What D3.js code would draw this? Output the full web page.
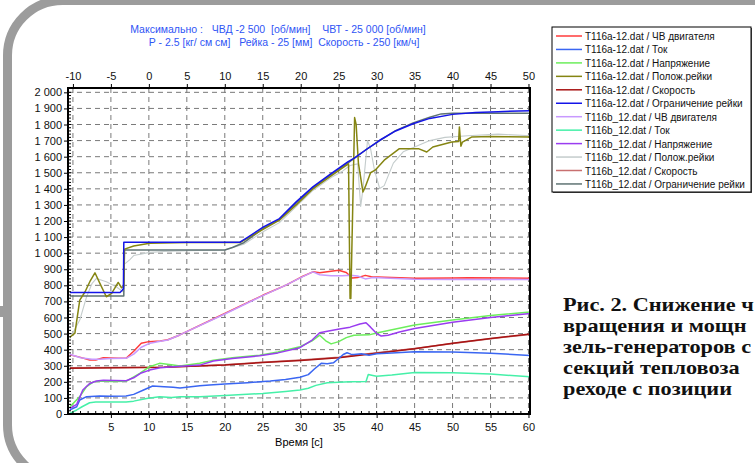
<!DOCTYPE html>
<html>
<head>
<meta charset="utf-8">
<script src="https://cdn.jsdelivr.net/npm/d3@7"></script>
<style>
  body { margin: 0; background: #fff; }
  svg { display: block; }
  text { font-family: "Liberation Sans", Arial, sans-serif; }
</style>
</head>
<body>
<div id="chart"></div>
<script>
// ---- data (time [s], value) ----
const rpmA = [[-0.4,368],[1,352],[2.2,336],[3,336],[4,350],[5,348],[6,346],[7,346],[8,390],[9,440],[10,450],[11.5,454],[12.5,462],[14,490],[20,625],[25,738],[28,800],[30,850],[31.6,884],[32.5,878],[33.5,884],[35,894],[36,880],[36.8,846],[37.5,848],[38.5,862],[39.3,853],[41,850],[45,844],[50,845],[52,847],[60.2,844]];
const rpmB = [[-0.4,372],[1,350],[2.5,340],[3.5,340],[5,345],[7,346],[8,372],[9,415],[10,438],[11.5,452],[12.5,460],[14,490],[20,622],[25,736],[28,800],[30,848],[31.6,884],[32.5,866],[34,860],[35.5,860],[36.5,862],[37.5,858],[38.5,840],[39.5,848],[41,846],[45,838],[50,836],[60.2,836]];
const curA = [[-0.4,26],[0.5,45],[0.9,87],[1.8,108],[3.5,112],[5,110],[7,112],[8,122],[9.3,149],[10.5,174],[12,170],[13.2,166],[14.1,162],[16.7,176],[18,180],[20,186],[23,195],[26,205],[28,215],[29.9,228],[31,245],[31.8,280],[32.7,315],[33.5,312],[34.3,318],[35,345],[35.6,370],[36.1,381],[36.6,372],[37,370],[38,374],[39,366],[40,374],[42,380],[45,387],[50,385],[55,378],[60.2,364]];
const curB = [[-0.4,4],[0.5,25],[1.2,45],[2.2,70],[3,74],[5,74],[7,75],[8,80],[9.7,97],[11.4,107],[13,103],[14.1,108],[16.7,107],[20,115],[25,128],[28,140],[29.9,149],[31,160],[32,178],[33.5,194],[35,198],[36.5,200],[38.6,202],[38.9,246],[39.5,240],[40,235],[42,242],[45,258],[50,257],[55,248],[60.2,232]];
const voltA = [[-0.4,45],[0.9,108],[1.8,170],[2.7,200],[4,205],[5,202],[7,203],[8.8,253],[10.1,294],[11.4,315],[13.2,304],[14.1,298],[16.7,315],[18.5,335],[21,350],[24.6,366],[27,385],[29.9,418],[31.5,455],[32.5,490],[33.3,455],[34,436],[35,450],[36,475],[37,490],[39,492],[40,503],[45,553],[50,585],[55,612],[60.2,634]];
const voltB = [[-0.4,35],[0.5,60],[1.3,149],[2.2,190],[3.1,205],[4,210],[7,207],[8,225],[9,255],[10.1,273],[11.5,288],[13.2,294],[16.7,304],[18.5,330],[21,345],[24.6,362],[27,380],[29.9,412],[31.5,460],[32.5,505],[33.5,515],[35.1,528],[36.5,540],[37.8,560],[38.6,567],[39.2,540],[40,500],[40.6,485],[41.5,490],[43,510],[45,532],[50,570],[55,600],[60.2,625]];
const speedA = [[-0.4,285],[12,290],[20,305],[25,320],[30,333],[35,350],[40,378],[45,405],[50,440],[55,470],[60.2,497]];
const speedB = [[-0.4,287],[12,291],[20,306],[25,322],[30,336],[35,353],[40,381],[45,408],[50,438],[55,468],[60.2,495]];
const rackA = [[-0.4,477],[0.26,503],[0.9,708],[1.6,760],[2.3,830],[2.9,878],[3.55,812],[4.4,729],[5.1,750],[5.96,818],[6.4,785],[6.7,795],[6.8,1025],[8,1045],[10.1,1062],[15,1066],[22,1066],[22.9,1090],[25.1,1150],[27.2,1205],[29.4,1300],[31.6,1400],[34,1480],[35.8,1540],[36.3,1555],[36.5,718],[36.6,718],[37.1,1843],[37.3,1800],[37.6,1560],[38.2,1380],[38.5,1412],[39.2,1500],[39.8,1516],[41,1578],[43,1650],[45.5,1650],[46.6,1629],[47.4,1660],[49.9,1691],[50.8,1695],[50.9,1785],[51.1,1665],[51.3,1691],[52.5,1722],[55,1725],[60.2,1722]];
const rackB = [[-0.4,470],[0.9,584],[1.8,729],[2.5,810],[3.1,843],[4.4,822],[5.7,791],[6.6,760],[6.7,760],[6.75,930],[7.5,960],[8,985],[10.1,1005],[12,1010],[15,1015],[20,1020],[22.5,1055],[25.1,1135],[27.2,1190],[29.4,1290],[31.6,1390],[34,1470],[35.5,1510],[36.5,1545],[37.5,1555],[37.9,1290],[38.2,1400],[38.8,1700],[39.2,1650],[39.7,1520],[40.4,1402],[41,1420],[42.2,1560],[43.5,1630],[45,1660],[47,1700],[49,1720],[52,1730],[56,1740],[60.2,1730]];
const limA = [[-0.4,756],[6.2,756],[6.5,770],[6.65,780],[6.7,1068],[22,1068],[22.9,1095],[25.1,1163],[27.2,1215],[29.4,1319],[31.6,1412],[34,1495],[36.2,1567],[37,1590],[38.5,1640],[40.4,1702],[42.5,1760],[44.8,1805],[47,1838],[50,1863],[53,1874],[56,1880],[60.2,1886]];
const limB = [[-0.4,733],[6.7,733],[6.75,1020],[20,1020],[21,1035],[22.5,1065],[25.1,1155],[27.2,1210],[29.4,1310],[31.6,1405],[34,1490],[36.2,1560],[38.5,1640],[40.4,1700],[42.5,1762],[44.8,1810],[47,1845],[48.5,1866],[50,1870],[60.2,1870]];

const legendNames = ["T116a-12.dat / ЧВ двигателя", "T116a-12.dat / Ток", "T116a-12.dat / Напряжение",
  "T116a-12.dat / Полож.рейки", "T116a-12.dat / Скорость", "T116a-12.dat / Ограничение рейки",
  "T116b_12.dat / ЧВ двигателя", "T116b_12.dat / Ток", "T116b_12.dat / Напряжение",
  "T116b_12.dat / Полож.рейки", "T116b_12.dat / Скорость", "T116b_12.dat / Ограничение рейки"];
const seriesData = [rpmA, curA, voltA, rackA, speedA, limA, rpmB, curB, voltB, rackB, speedB, limB];
const colors = ["#ff3b3b", "#3a66f2", "#6cee5c", "#858512", "#a81414", "#1414e8",
  "#c899ff", "#45f0a8", "#9a3cf0", "#c4cccc", "#c87070", "#5f7373"];
// order the lines are painted in (index into the lists above)
const drawOrder = [10, 4, 7, 1, 2, 8, 0, 6, 9, 11, 3, 5];

const bottomTicks = d3.range(5, 61, 5);
const topTicks = d3.range(-10, 51, 5);
const yTicks = d3.range(0, 2001, 100);
const titleLines = ["Максимально :   ЧВД -2 500  [об/мин]    ЧВТ - 25 000 [об/мин]",
  "Р - 2.5 [кг/ см см]   Рейка - 25 [мм]  Скорость - 250 [км/ч]"];
// the caption is cut by the right edge of the picture
const captionLines = ["Рис. 2. Снижение ч", "вращения и мощн", "зель-генераторов с",
  "секций тепловоза", "реходе с позиции"];

const W = 755, H = 463;
const plot = { left: 68, top: 88, right: 530, bottom: 414 };

const svg = d3.select("#chart").append("svg")
  .attr("width", W).attr("height", H);

// grey rounded page border
svg.append("rect")
  .attr("x", 7.5).attr("y", 0.5).attr("width", 800).attr("height", 479.5)
  .attr("rx", 55)
  .style("fill", "none").style("stroke", "#9c9c9c").style("stroke-width", 9);
svg.append("rect").attr("x", 0).attr("y", 306).attr("width", 8).attr("height", 11)
  .style("fill", "#9c9c9c");

var x = d3.scaleLinear().domain([-0.65, 60.2]).range([plot.left, plot.right]);
var xTop = d3.scaleLinear().domain([-10.65, 50.2]).range([plot.left, plot.right]);
var y = d3.scaleLinear().domain([0, 2027]).range([plot.bottom, plot.top]);

const ru = d3.formatLocale({ decimal: ".", thousands: " ", grouping: [3], currency: ["", ""] });
const fmt = ru.format(",");

// title
svg.append("g").selectAll("text")
  .data(titleLines)
  .enter().append("text")
  .attr("x", (d, i) => i == 0 ? 278 : 284)
  .attr("y", (d, i) => 33 + i * 13)
  .attr("text-anchor", "middle")
  .attr("xml:space", "preserve")
  .style("white-space", "pre")
  .style("font-size", "10.5px")
  .style("fill", "#2f55f5")
  .text(d => d);

// grid
const grid = svg.append("g");
grid.selectAll("line.v")
  .data(d3.range(0, 61, 5))
  .enter().append("line")
  .attr("x1", d => x(d)).attr("x2", d => x(d))
  .attr("y1", plot.top).attr("y2", plot.bottom)
  .style("stroke", "#7a7a7a").style("stroke-dasharray", "5,4").style("stroke-width", 1);
grid.selectAll("line.h")
  .data(yTicks.slice(1))
  .enter().append("line")
  .attr("x1", plot.left).attr("x2", plot.right)
  .attr("y1", d => y(d)).attr("y2", d => y(d))
  .style("stroke", "#7a7a7a").style("stroke-dasharray", "5,4").style("stroke-width", 1);

// lines
svg.append("clipPath").attr("id", "clip")
  .append("rect").attr("x", plot.left).attr("y", plot.top)
  .attr("width", plot.right - plot.left).attr("height", plot.bottom - plot.top);

const line = d3.line().x(d => x(d[0])).y(d => y(d[1]));
svg.append("g").attr("clip-path", "url(#clip)")
  .selectAll("path")
  .data(drawOrder)
  .enter().append("path")
  .attr("d", i => line(seriesData[i]))
  .style("fill", "none")
  .style("stroke", i => colors[i])
  .style("stroke-width", i => (i == 9 ? 1.1 : 1.5))
  .style("stroke-linejoin", "round");

// axes
const axisStyle = g => {
  g.selectAll("text").style("font-size", "11px").style("fill", "#111")
    .style("font-family", "'Liberation Sans', Arial, sans-serif");
  g.select(".domain").remove();
};
svg.append("g")
  .attr("transform", "translate(0," + plot.bottom + ")")
  .call(d3.axisBottom(x).tickValues(bottomTicks).tickSize(4).tickPadding(5).tickFormat(d => d))
  .call(axisStyle);
svg.append("g")
  .attr("transform", "translate(0," + plot.top + ")")
  .call(d3.axisTop(xTop).tickValues(topTicks).tickSize(4).tickPadding(4).tickFormat(d => d))
  .call(axisStyle);
svg.append("g")
  .attr("transform", "translate(" + plot.left + ",0)")
  .call(d3.axisLeft(y).tickValues(yTicks).tickSize(4).tickPadding(2).tickFormat(fmt))
  .call(axisStyle);

// minor ticks inside the frame
svg.append("g").selectAll("line")
  .data(d3.range(0, 61, 1))
  .enter().append("line")
  .attr("x1", d => x(d)).attr("x2", d => x(d))
  .attr("y1", plot.bottom).attr("y2", plot.bottom - 3)
  .style("stroke", "#000");
svg.append("g").selectAll("line")
  .data(d3.range(0, 2001, 20))
  .enter().append("line")
  .attr("x1", plot.left).attr("x2", plot.left + 3)
  .attr("y1", d => y(d)).attr("y2", d => y(d))
  .style("stroke", "#000");

// frame
svg.append("rect")
  .attr("x", plot.left).attr("y", plot.top)
  .attr("width", plot.right - plot.left).attr("height", plot.bottom - plot.top)
  .style("fill", "none").style("stroke", "#000").style("stroke-width", 2);

// x label
svg.append("text")
  .attr("x", 299).attr("y", 446)
  .attr("text-anchor", "middle")
  .style("font-size", "11px")
  .text("Время [с]");

// legend
const lg = svg.append("g").attr("transform", "translate(552,27)");
lg.append("rect").attr("x", 1).attr("y", 1).attr("width", 199).attr("height", 165).style("fill", "#555");
lg.append("rect").attr("width", 199).attr("height", 165)
  .style("fill", "#fff").style("stroke", "#000").style("stroke-width", 1);
const size = 13.45;
lg.selectAll("line.key")
  .data(legendNames)
  .enter().append("line")
  .attr("x1", 4).attr("x2", 30)
  .attr("y1", (d, i) => 9 + i * size).attr("y2", (d, i) => 9 + i * size)
  .style("stroke", (d, i) => colors[i]).style("stroke-width", 1.5);
lg.selectAll("text")
  .data(legendNames)
  .enter().append("text")
  .attr("x", 33)
  .attr("y", (d, i) => 9 + i * size + 4)
  .style("font-size", "10px")
  .style("fill", "#111")
  .text(d => d);

// caption on the right (the source picture is stretched sideways)
const cap = svg.append("g");
const capText = cap.selectAll("text")
  .data(captionLines)
  .enter().append("text")
  .attr("x", 0)
  .attr("y", (d, i) => 311 + i * 21)
  .style("font-family", "'Liberation Serif', 'DejaVu Serif', serif")
  .style("font-weight", "bold")
  .style("font-size", "19px")
  .style("fill", "#111")
  .text(d => d);
const lens = capText.nodes().map(n => n.getComputedTextLength());
const stretch = Math.min(186 / lens[3], 191 / d3.max(lens));
cap.attr("transform", "translate(563,0) scale(" + stretch + ",1)");
</script>
</body>
</html>
